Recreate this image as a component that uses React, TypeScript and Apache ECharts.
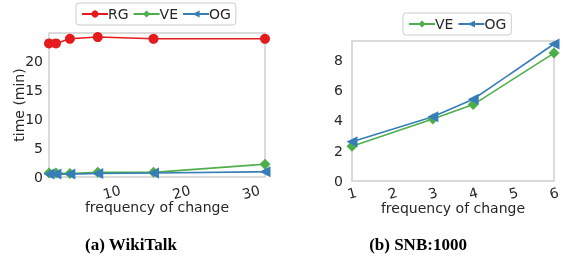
import React, { useEffect, useRef } from "react";
import * as echarts from "echarts";

const freqA = [1, 2, 4, 8, 16, 32];
const rgA = [23.0, 23.0, 23.8, 24.1, 23.8, 23.8];
const veA = [0.7, 0.7, 0.6, 0.8, 0.8, 2.2];
const ogA = [0.5, 0.5, 0.5, 0.6, 0.7, 0.9];

const freqB = [1, 3, 4, 6];
const veB = [2.3, 4.1, 5.05, 8.45];
const ogB = [2.6, 4.25, 5.4, 9.05];

const xTicksA = [10, 20, 30];
const yTicksA = [0, 5, 10, 15, 20];
const xTicksB = [1, 2, 3, 4, 5, 6];
const yTicksB = [0, 2, 4, 6, 8];

const RED = "#e41a1c";
const GREEN = "#4daf4a";
const BLUE = "#377eb8";
const TXT = "#262626";
const FONT = "DejaVu Sans";

const pairs = (xs: number[], ys: number[]) => xs.map((x, i) => [x, ys[i]]);

export default function App() {
  const ref = useRef<HTMLDivElement>(null);
  useEffect(() => {
    const chart = echarts.init(ref.current!, null, { renderer: "svg" });
    const axisLabel = (vals: number[], extra: any = {}) => ({
      customValues: vals,
      color: TXT,
      fontFamily: FONT,
      fontSize: 14,
      ...extra,
    });
    const line = (name: string, color: string, symbol: string, size: number, data: number[][], idx: number, rot = 0) => ({
      name,
      type: "line",
      xAxisIndex: idx,
      yAxisIndex: idx,
      data,
      symbol,
      symbolSize: size,
      symbolRotate: rot,
      lineStyle: { color, width: 1.6 },
      itemStyle: { color },
      emphasis: { disabled: true },
    });
    const legendBase = {
      orient: "horizontal",
      borderColor: "#cccccc",
      borderWidth: 1,
      borderRadius: 3,
      padding: [4, 5],
      itemGap: 4,
      itemWidth: 26,
      itemHeight: 9,
      textStyle: { color: TXT, fontFamily: FONT, fontSize: 14, padding: [0, 0, 0, -5] },
      selectedMode: false,
    };
    chart.setOption({
      animation: false,
      grid: [
        { left: 49, top: 33, width: 216, height: 144, show: true, borderColor: "#d0d0d0", borderWidth: 1.5 },
        { left: 352, top: 41, width: 207, height: 140, show: true, borderColor: "#d0d0d0", borderWidth: 1.5 },
      ],
      legend: [
        { ...legendBase, left: 76, top: 3, data: ["RG", "VE", "OG"] },
        { ...legendBase, left: 403, top: 13, data: ["VE", "OG"] },
      ],
      xAxis: [
        {
          type: "value", gridIndex: 0, min: 1, max: 32,
          axisLine: { show: false }, axisTick: { show: false }, splitLine: { show: false },
          axisLabel: axisLabel(xTicksA, { rotate: 15, margin: 15, align: "center", verticalAlign: "middle" }),
          name: "frequency of change", nameLocation: "middle", nameGap: 23, nameMoveOverlap: false,
          nameTextStyle: { color: TXT, fontFamily: FONT, fontSize: 14 },
        },
        {
          type: "value", gridIndex: 1, min: 1, max: 6,
          axisLine: { show: false }, axisTick: { show: false }, splitLine: { show: false },
          axisLabel: axisLabel(xTicksB, { rotate: 15, margin: 12, align: "center", verticalAlign: "middle" }),
          name: "frequency of change", nameLocation: "middle", nameGap: 20, nameMoveOverlap: false,
          nameTextStyle: { color: TXT, fontFamily: FONT, fontSize: 14 },
        },
      ],
      yAxis: [
        {
          type: "value", gridIndex: 0, min: 0, max: 24.8,
          axisLine: { show: false }, axisTick: { show: false }, splitLine: { show: false },
          axisLabel: axisLabel(yTicksA, { margin: 6 }),
          name: "time (min)", nameLocation: "middle", nameGap: 23, nameMoveOverlap: false,
          nameTextStyle: { color: TXT, fontFamily: FONT, fontSize: 14 },
        },
        {
          type: "value", gridIndex: 1, min: 0, max: 9.25,
          axisLine: { show: false }, axisTick: { show: false }, splitLine: { show: false },
          axisLabel: axisLabel(yTicksB, { margin: 9 }),
        },
      ],
      series: [
        line("RG", RED, "circle", 10, pairs(freqA, rgA), 0),
        line("VE", GREEN, "diamond", 11, pairs(freqA, veA), 0),
        line("OG", BLUE, "triangle", 11, pairs(freqA, ogA), 0, 90),
        line("VE", GREEN, "diamond", 11, pairs(freqB, veB), 1),
        line("OG", BLUE, "triangle", 11, pairs(freqB, ogB), 1, 90),
      ],
      graphic: [
        {
          type: "text", x: 131, y: 244,
          style: { text: "(a) WikiTalk", fill: "#000", font: "bold 17px 'Liberation Serif'", align: "center", verticalAlign: "middle" },
        },
        {
          type: "text", x: 418, y: 244,
          style: { text: "(b) SNB:1000", fill: "#000", font: "bold 17px 'Liberation Serif'", align: "center", verticalAlign: "middle" },
        },
      ],
    });
    return () => chart.dispose();
  }, []);
  return <div ref={ref} style={{ position: "fixed", left: 0, top: 0, width: 563, height: 262 }} />;
}
